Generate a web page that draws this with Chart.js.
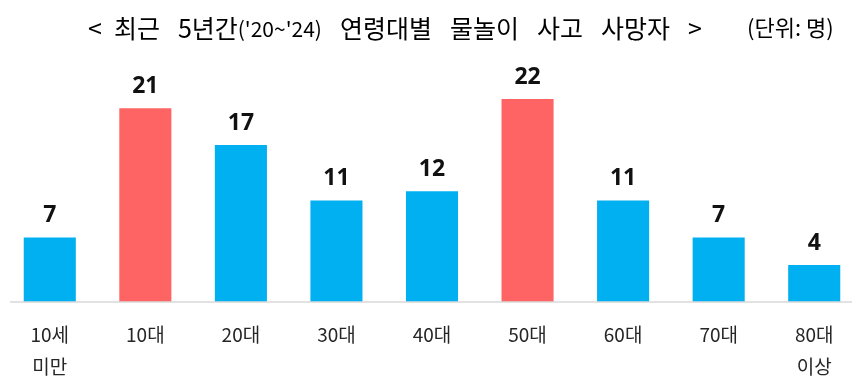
<!DOCTYPE html>
<html><head><meta charset="utf-8">
<script src="https://cdn.jsdelivr.net/npm/chart.js@4"></script>
<style>
html,body{margin:0;padding:0;background:#fff;overflow:hidden}
#wrap{position:relative;width:866px;height:382px;margin-left:-2px}
</style>
</head><body><div id="wrap"><canvas id="c"></canvas></div>
<script>
const categories = [["10세","미만"],"10대","20대","30대","40대","50대","60대","70대",["80대","이상"]];
const deaths = [7,21,17,11,12,22,11,7,4];
const highlight = [false,true,false,false,false,true,false,false,false];
const titleParts = ["<","최근","5년간","('20~'24)","연령대별","물놀이","사고","사망자",">"];
const unitLabel = "(단위: 명)";

const BLUE = '#00B0F0', RED = '#FF6464';
const CJK = '"Noto Sans CJK KR", "Noto Sans", sans-serif';

const titlePlugin = {
  id: 'titleParts',
  afterDraw(chart) {
    const ctx = chart.ctx;
    ctx.save();
    ctx.fillStyle = '#000';
    ctx.textBaseline = 'middle';
    ctx.textAlign = 'left';
    let x = 90;
    const y = 28;
    titleParts.forEach((p, i) => {
      const small = p.startsWith('(');
      ctx.font = (small ? '21px ' : '25px ') + CJK;
      const w = ctx.measureText(p).width;
      ctx.fillText(p, x, small ? y + 1 : y);
      const next = titleParts[i + 1];
      let gap = 18;
      if (next && next.startsWith('(')) gap = 0;
      if (i === 0) gap = 12;
      x += w + gap;
    });
    ctx.font = '22px ' + CJK;
    ctx.fillText(unitLabel, 749, y);
    // axis line
    const a = chart.chartArea;
    ctx.strokeStyle = '#d9d9d9';
    ctx.lineWidth = 1.5;
    ctx.beginPath();
    ctx.moveTo(a.left + 8, a.bottom);
    ctx.lineTo(a.right - 10, a.bottom);
    ctx.stroke();
    // value labels
    const meta = chart.getDatasetMeta(0);
    ctx.font = 'bold 23px "Noto Sans", sans-serif';
    ctx.textAlign = 'center';
    ctx.textBaseline = 'alphabetic';
    ctx.fillStyle = '#111';
    meta.data.forEach((bar, i) => {
      ctx.fillText(String(deaths[i]), bar.x, bar.y - 15);
    });
    ctx.restore();
  }
};

new Chart(document.getElementById('c'), {
  type: 'bar',
  data: {
    labels: categories,
    datasets: [{
      data: deaths,
      backgroundColor: highlight.map(h => h ? RED : BLUE),
      borderWidth: 0,
      barPercentage: 1,
      categoryPercentage: 0.545
    }]
  },
  options: {
    responsive: true,
    maintainAspectRatio: false,
    animation: false,
    layout: { padding: { left: 4, right: 2, top: 71.25, bottom: 0 } },
    plugins: { legend: { display: false }, tooltip: { enabled: false } },
    scales: {
      y: { display: false, min: 0, max: 25 },
      x: {
        afterFit(scale) { scale.height = 80; },
        grid: { display: false, drawTicks: false },
        border: { display: false },
        ticks: {
          padding: 17,
          color: '#262626',
          maxRotation: 0,
          autoSkip: false,
          font: { family: CJK, size: 19, lineHeight: 32/19 }
        }
      }
    }
  },
  plugins: [titlePlugin]
});
</script>
</body></html>
